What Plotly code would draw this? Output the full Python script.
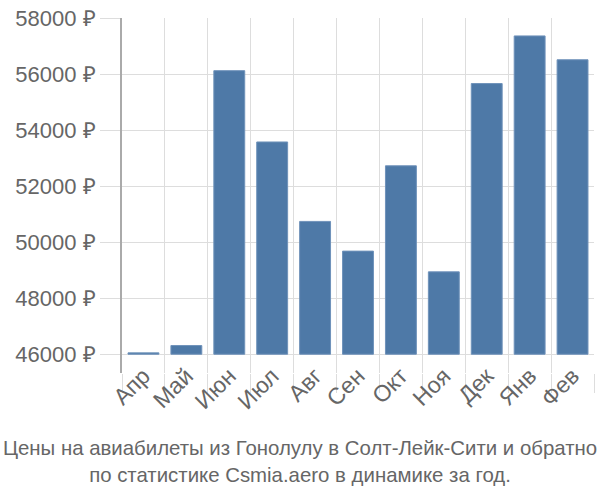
import plotly.graph_objects as go

months = ["Апр", "Май", "Июн", "Июл", "Авг", "Сен", "Окт", "Ноя", "Дек", "Янв", "Фев"]
prices = [46050, 46310, 56120, 53575, 50740, 49680, 52725, 48940, 55660, 57360, 56510]
base_value = 46000
y_ticks = [46000, 48000, 50000, 52000, 54000, 56000, 58000]
title_lines = ["Цены на авиабилеты из Гонолулу в Солт-Лейк-Сити и обратно",
               "по статистике Csmia.aero в динамике за год."]

fig = go.Figure()
fig.add_trace(go.Bar(
    x=months,
    y=[p - base_value for p in prices],
    base=base_value,
    marker=dict(color="#4e79a7", line=dict(color="#6f92ba", width=1)),
    hoverinfo="skip",
))

fig.update_layout(
    width=600, height=500,
    margin=dict(l=122, r=6, t=15, b=127),
    paper_bgcolor="white", plot_bgcolor="white",
    bargap=0.28,
    showlegend=False,
    font=dict(family="Liberation Sans, Arial, sans-serif", color="#666666"),
    title=dict(
        text="<br>".join(title_lines),
        x=0.5, xref="container", xanchor="center",
        y=1 - 455 / 500, yref="container", yanchor="middle",
        font=dict(family="Liberation Sans, Arial, sans-serif", size=20.4, color="#666666"),
    ),
)

fig.update_xaxes(
    type="category",
    tickson="boundaries",
    showgrid=True, gridcolor="#dddddd", gridwidth=1,
    ticks="outside", ticklen=19, tickcolor="#dddddd", tickwidth=1,
    tickangle=-45,
    ticklabelstandoff=-16,
    tickfont=dict(size=23, color="#666666"),
    showline=False, zeroline=False,
)
fig.update_yaxes(
    range=[45330, 58000],
    tickvals=y_ticks,
    ticktext=[f"{v} ₽" for v in y_ticks],
    showgrid=True, gridcolor="#dddddd", gridwidth=1,
    ticks="outside", ticklen=20, tickcolor="#dddddd", tickwidth=1,
    tickfont=dict(size=22, color="#666666"),
    showline=True, linecolor="#aaaaaa", linewidth=2,
    zeroline=False,
)

fig.write_html("out.html")
